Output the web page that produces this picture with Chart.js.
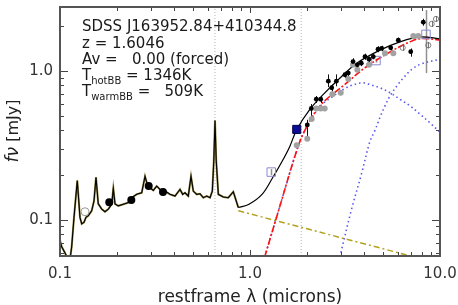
<!DOCTYPE html>
<html><head><meta charset="utf-8">
<script src="https://cdn.jsdelivr.net/npm/chart.js@4"></script>
<style>html,body{margin:0;padding:0;background:#fff}</style>
</head><body>
<canvas id="c" width="458" height="305" style="width:458px;height:305px;display:block"></canvas>
<script>
// ---------- data (rest-frame wavelength in microns, flux density in mJy) ----------
const specLam = [0.1000,0.1021,0.1063,0.1102,0.1130,0.1152,0.1185,0.1233,0.1274,0.1301,0.1338,0.1370,0.1409,0.1468,0.1510,0.1547,0.1590,0.1658,0.1725,0.1796,0.1872,0.1908,0.1948,0.2027,0.2154,0.2288,0.2385,0.2533,0.2692,0.2802,0.2881,0.2977,0.3098,0.3228,0.3360,0.3570,0.3793,0.4030,0.4281,0.4423,0.4548,0.4734,0.4892,0.5030,0.5242,0.5456,0.5679,0.5918,0.6160,0.6334,0.6450,0.6544,0.6640,0.6812,0.7236,0.7688,0.8169,0.8679];
const specFlux = [0.0726,0.0656,0.0596,0.0540,0.0545,0.0656,0.1035,0.1832,0.1035,0.0936,0.0960,0.1035,0.1063,0.1147,0.1336,0.1927,0.1276,0.1177,0.1130,0.1177,0.1270,0.1622,0.1276,0.1238,0.1270,0.1302,0.1405,0.1480,0.1517,0.1956,0.1723,0.1636,0.1573,0.1680,0.1597,0.1556,0.1480,0.1442,0.1597,0.1480,0.1517,0.1442,0.1956,0.1556,0.1480,0.1493,0.1405,0.1442,0.1405,0.1556,0.2500,0.4645,0.2500,0.1480,0.1420,0.1405,0.1540,0.1206];

const modelLam  = [0.868,0.988,1.157,1.306,1.474,1.62,1.762,2.070,2.432,2.977,3.644,4.833,6.159,7.848,9.795,10.5];
const modelFlux = [0.1206,0.127,0.148,0.1883,0.2459,0.311,0.4036,0.5544,0.6966,0.899,1.130,1.384,1.573,1.698,1.654,1.62];

const dustLam  = [1.143,1.199,1.438,1.740,1.924,2.336,3.228,4.114,5.678,6.952,7.848,9.607,10.5];
const dustFlux = [0.0459,0.0569,0.1238,0.2778,0.3885,0.5837,0.833,1.074,1.384,1.573,1.654,1.629,1.60];

const hotLam  = [1.143,1.199,1.438,1.740,1.924,2.336,2.768,3.144,3.484,3.933,4.370,4.833,5.456,6.159,6.952,7.848,8.859,10.0];
const hotFlux = [0.0459,0.0569,0.1238,0.2778,0.3885,0.5776,0.6833,0.7599,0.8078,0.8329,0.8039,0.7717,0.7152,0.6455,0.5837,0.5136,0.4477,0.3885];

const warmLam  = [2.818,2.977,3.418,3.867,4.281,4.548,4.833,5.135,5.456,5.917,6.411,7.236,8.168,9.607,10.0];
const warmFlux = [0.0426,0.0569,0.1165,0.2048,0.3372,0.3988,0.4884,0.5837,0.6799,0.7917,0.899,1.047,1.130,1.188,1.201];

const plawLam  = [0.868,10.0];
const plawFlux = [0.1147,0.0505];

const lineLam = [0.654,1.86];   // vertical reference lines

const optLam  = [0.1817,0.2373,0.2929,0.3484];
const optFlux = [0.1308,0.1357,0.1684,0.1532];

const uvLam = [0.1354]; const uvFlux = [0.1130];

const irLam  = [2.002,2.102,2.233,2.356,2.584,2.692,2.847,3.162,3.291,3.485,3.671,3.853,4.030,4.229,4.455,4.718,4.934,5.503,6.033,7.013,8.168];
const irFlux = [0.434,0.560,0.646,0.646,0.855,0.772,0.855,0.945,0.970,1.159,1.101,1.130,1.251,1.201,1.251,1.405,1.420,1.435,1.612,1.350,2.134];
const irLo   = [0.351,0.50,0.61,0.61,0.78,0.73,0.79,0.90,0.93,1.10,1.05,1.08,1.19,1.15,1.20,1.34,1.36,1.38,1.55,1.25,2.02];
const irHi   = [0.47,0.60,0.68,0.68,0.95,0.81,0.95,0.99,1.01,1.22,1.15,1.18,1.31,1.25,1.30,1.47,1.48,1.49,1.68,1.42,2.25];

const grayLam  = [1.762,2.002,2.112,2.233,2.356,2.473,2.712,3.002,3.291,3.485,3.671,4.229,5.134,5.679,7.237,7.688];
const grayFlux = [0.3173,0.3508,0.476,0.5603,0.5603,0.5603,0.697,0.715,0.885,1.101,1.020,1.101,1.316,1.316,1.723,1.723];

const openLam  = [6.362,8.678,9.042,9.527];
const openFlux = [1.435,1.493,2.079,2.244];
const openLo   = [1.37,1.42,1.98,2.14];
const openHi   = [1.50,1.57,2.18,2.35];

const sqLam  = [1.294,4.604,8.439];
const sqFlux = [0.2089,1.177,1.766];
const sqLo   = [0.199,1.14,0.970];
const sqHi   = [0.219,1.21,2.574];

const blueSqLam = [1.762]; const blueSqFlux = [0.4049];

const xTicks = [0.1,0.2,0.3,0.4,0.5,0.6,0.7,0.8,0.9,1,2,3,4,5,6,7,8,9,10];
const xLabelVals = [0.1,1,10];
const xLabelText = ['0.1','1.0','10.0'];
const yTicks = [0.06,0.07,0.08,0.09,0.1,0.2,0.3,0.4,0.5,0.6,0.7,0.8,0.9,1,2];
const yLabelVals = [0.1,1];
const yLabelText = ['0.1','1.0'];

const objName = 'SDSS J163952.84+410344.8';
const infoLines = ['z = 1.6046','Av =   0.00 (forced)'];
const tempSubs = ['hotBB','warmBB'];
const tempVals = [' = 1346K',' =   509K'];
const xTitle = 'restframe \u03bb (microns)';

// ---------- chart ----------
const XMIN = 0.1, XMAX = 10, YMIN = 0.0569, YMAX = 2.7;
const pts = (xs, ys) => xs.map((x, i) => ({x: x, y: ys[i]}));
const FONT = "'DejaVu Sans', sans-serif";

function line(data, color, width, dash, order, tension) {
  return {data: data, showLine: true, pointRadius: 0, borderColor: color, borderWidth: width,
          borderDash: dash || [], order: order, tension: tension || 0, fill: false};
}

const vlines = lineLam.map(l => line([{x: l, y: YMIN}, {x: l, y: YMAX}], '#b4b4b4', 1, [1, 2], 30));

const errPlugin = {
  id: 'errbars',
  beforeDatasetsDraw(chart) {
    const {ctx, scales: {x, y}} = chart;
    ctx.save();
    const bars = (lam, lo, hi, col, w) => {
      ctx.strokeStyle = col; ctx.lineWidth = w;
      lam.forEach((l, i) => {
        const px = Math.round(x.getPixelForValue(l)) + 0.5;
        ctx.beginPath();
        ctx.moveTo(px, y.getPixelForValue(lo[i]));
        ctx.lineTo(px, y.getPixelForValue(hi[i]));
        ctx.stroke();
      });
    };
    bars(sqLam, sqLo, sqHi, '#909090', 1.5);
    bars(irLam, irLo, irHi, '#111', 1);
    bars(openLam, openLo, openHi, '#777', 1);
    ctx.restore();
  }
};

const framePlugin = {
  id: 'frame',
  afterDraw(chart) {
    const {ctx, chartArea: a, scales: {x, y}} = chart;
    ctx.save();
    ctx.strokeStyle = '#444'; ctx.lineWidth = 1;
    xTicks.forEach(v => {
      const px = Math.round(x.getPixelForValue(v)) + 0.5;
      const L = xLabelVals.includes(v) ? 6 : 4;
      ctx.beginPath();
      ctx.moveTo(px, a.bottom); ctx.lineTo(px, a.bottom - L);
      ctx.moveTo(px, a.top); ctx.lineTo(px, a.top + L);
      ctx.stroke();
    });
    yTicks.forEach(v => {
      const py = Math.round(y.getPixelForValue(v)) + 0.5;
      const L = yLabelVals.includes(v) ? 8 : 4;
      ctx.beginPath();
      ctx.moveTo(a.left, py); ctx.lineTo(a.left + L, py);
      ctx.moveTo(a.right, py); ctx.lineTo(a.right - L, py);
      ctx.stroke();
    });
    ctx.strokeStyle = '#555'; ctx.lineWidth = 2;
    ctx.strokeRect(a.left, a.top, a.right - a.left, a.bottom - a.top);

    // annotation block
    ctx.fillStyle = '#1a1a1a';
    ctx.textAlign = 'left'; ctx.textBaseline = 'alphabetic';
    ctx.font = '15px ' + FONT;
    ctx.fillText(objName, 82, 31);
    infoLines.forEach((t, i) => ctx.fillText(t, 82, 48 + i * 16));
    tempSubs.forEach((s, i) => {
      const by = 80 + i * 15.5;
      ctx.font = '15px ' + FONT;
      ctx.fillText('T', 82, by);
      let xx = 82 + ctx.measureText('T').width;
      ctx.font = '10px ' + FONT;
      ctx.fillText(s, xx, by + 4);
      xx += ctx.measureText(s).width;
      ctx.font = '15px ' + FONT;
      ctx.fillText(tempVals[i], xx, by);
    });

    // axis titles
    ctx.fillStyle = '#222';
    ctx.font = '17px ' + FONT;
    ctx.textAlign = 'center';
    ctx.fillText(xTitle, (a.left + a.right) / 2, 302);

    ctx.save();
    ctx.translate(18, 131);
    ctx.rotate(-Math.PI / 2);
    ctx.textAlign = 'left';
    ctx.font = 'italic 17px ' + FONT;
    const w1 = ctx.measureText('f\u03bd').width;
    ctx.font = '16px ' + FONT;
    const w2 = ctx.measureText(' [mJy]').width;
    let sx = -(w1 + w2) / 2;
    ctx.font = 'italic 17px ' + FONT;
    ctx.fillText('f\u03bd', sx, 0);
    ctx.font = '16px ' + FONT;
    ctx.fillText(' [mJy]', sx + w1, 0);
    ctx.restore();
    ctx.restore();
  }
};

new Chart(document.getElementById('c').getContext('2d'), {
  type: 'scatter',
  data: {datasets: [
    {data: pts(blueSqLam, blueSqFlux), pointStyle: 'rect', pointRadius: 5.7, backgroundColor: '#0c0c99', borderColor: '#000044', borderWidth: 1, order: 1},
    {data: pts(irLam, irFlux), pointRadius: 2.4, backgroundColor: '#000', borderWidth: 0, order: 2},
    {data: pts(optLam, optFlux), pointRadius: 4, backgroundColor: '#000', borderWidth: 0, order: 2},
    {data: pts(sqLam, sqFlux), pointStyle: 'rect', pointRadius: 6, backgroundColor: 'rgba(0,0,0,0)', borderColor: '#8a8ad0', borderWidth: 1, order: 3},
    {data: pts(openLam, openFlux), pointRadius: 2.6, backgroundColor: 'rgba(0,0,0,0)', borderColor: '#666', borderWidth: 0.8, order: 3},
    {data: pts(uvLam, uvFlux), pointRadius: 4, backgroundColor: 'rgba(0,0,0,0)', borderColor: '#999', borderWidth: 1, order: 3},
    {data: pts(grayLam, grayFlux), pointRadius: 3, backgroundColor: '#a2a2a2', borderWidth: 0, order: 4},
    line(pts(modelLam, modelFlux), '#000', 1.2, [], 10, 0.35),
    line(pts(dustLam, dustFlux), '#ff1010', 1.6, [7, 2, 2, 2], 11, 0.35),
    line(pts(hotLam, hotFlux), '#5a5af0', 1.6, [1.5, 3], 12, 0.35),
    line(pts(warmLam, warmFlux), '#5a5af0', 1.6, [1.5, 3], 12, 0.35),
    line(pts(specLam, specFlux), '#000', 1.1, [], 13, 0),
    line(pts(specLam, specFlux), '#8f8440', 2.0, [], 14, 0),
    line(pts(plawLam, plawFlux), '#b3a01e', 1.5, [6, 3, 2, 3], 15, 0),
    ...vlines
  ]},
  options: {
    responsive: false, animation: false, events: [],
    layout: {padding: {top: 3, right: 18, left: 0, bottom: 0}},
    plugins: {legend: {display: false}, tooltip: {enabled: false}},
    scales: {
      x: {type: 'logarithmic', min: XMIN, max: XMAX,
          afterFit(s) { s.height = 49; s.paddingLeft = 0; s.paddingRight = 0; },
          afterBuildTicks(s) { s.ticks = xTicks.map(v => ({value: v})); },
          grid: {display: false, drawTicks: false}, border: {display: false},
          ticks: {autoSkip: false, maxRotation: 0, minRotation: 0, padding: 9, color: '#333',
                  font: {family: FONT, size: 15},
                  callback(v) { const i = xLabelVals.findIndex(t => Math.abs(t - v) < 1e-9); return i >= 0 ? xLabelText[i] : ''; }}},
      y: {type: 'logarithmic', min: YMIN, max: YMAX,
          afterFit(s) { s.width = 60; s.paddingTop = 0; s.paddingBottom = 0; },
          afterBuildTicks(s) { s.ticks = yTicks.map(v => ({value: v})); },
          grid: {display: false, drawTicks: false}, border: {display: false},
          ticks: {autoSkip: false, padding: 7, color: '#333',
                  font: {family: FONT, size: 15},
                  callback(v) { const i = yLabelVals.findIndex(t => Math.abs(t - v) < 1e-9); return i >= 0 ? yLabelText[i] : ''; }}}
    }
  },
  plugins: [errPlugin, framePlugin]
});
</script>
</body></html>
